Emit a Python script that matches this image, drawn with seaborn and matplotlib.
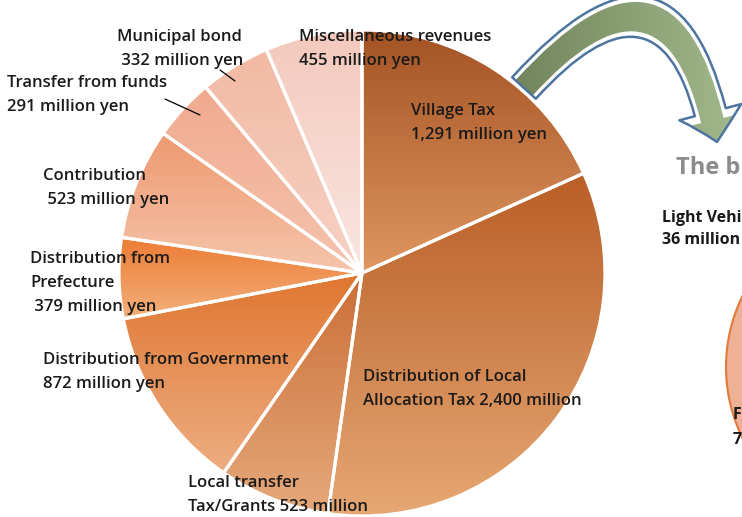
import numpy as np
import matplotlib
matplotlib.use('Agg')
import matplotlib.pyplot as plt
import seaborn as sns
from matplotlib.colors import to_rgb
from matplotlib.patches import FancyArrowPatch, Circle

# Revenue breakdown (million yen), clockwise from 12 o'clock
categories = ['Village Tax', 'Distribution of Local Allocation Tax', 'Local transfer Tax/Grants',
              'Distribution from Government', 'Distribution from Prefecture', 'Contribution',
              'Transfer from funds', 'Municipal bond', 'Miscellaneous revenues']
values = [1291, 2400, 523, 872, 379, 523, 291, 332, 455]

# top / bottom colour of each wedge gradient
top_colors = ['#A45324', '#B95E26', '#CB6E36', '#E07631', '#EC7C34',
              '#EE9970', '#F0AA8D', '#F2B9A3', '#F3C9BC']
bottom_colors = ['#E0965F', '#E6A773', '#E5A97B', '#EDAE82', '#F3B07C',
                 '#F5C5AB', '#F5C3AF', '#F6D2C5', '#FAE6E0']

labels = [
    (['Village Tax', '1,291 million yen'], 411, 111),
    (['Distribution of Local', 'Allocation Tax 2,400 million'], 363, 377),
    (['Local transfer', 'Tax/Grants 523 million'], 188, 483),
    (['Distribution from Government', '872 million yen'], 43, 360),
    (['Distribution from', 'Prefecture', ' 379 million yen'], 30, 259),
    (['Contribution', ' 523 million yen'], 43, 176),
    (['Transfer from funds', '291 million yen'], 7, 83),
    (['Municipal bond', ' 332 million yen'], 117, 37),
    (['Miscellaneous revenues', '455 million yen'], 299, 37),
]

W, H = 742, 517

sns.set_theme(style='white')
plt.rcParams['font.family'] = ['Open Sans', 'DejaVu Sans']

fig = plt.figure(figsize=(7.42, 5.17), dpi=100)
ax = fig.add_axes([0, 0, 1, 1])


def py(y):
    # pixel row -> data y
    return H - y


def gradient(c1, c2, n=128):
    a, b = np.array(to_rgb(c1)), np.array(to_rgb(c2))
    t = np.linspace(0, 1, n)[:, None]
    return (a + (b - a) * t)[:, None, :]


wedges, _ = ax.pie(values, startangle=90, counterclock=False,
                   center=(362, py(273)), radius=243,
                   wedgeprops=dict(edgecolor='white', linewidth=2.3))

for w, c1, c2 in zip(wedges, top_colors, bottom_colors):
    ext = w.get_path().get_extents()
    im = ax.imshow(gradient(c1, c2), extent=[ext.x0, ext.x1, ext.y0, ext.y1],
                   origin='upper', aspect='auto', interpolation='bilinear', zorder=1)
    im.set_clip_path(w)
    w.set_facecolor('none')
    w.set_zorder(3)

for lines, x, y in labels:
    for i, t in enumerate(lines):
        ax.text(x, py(y + 24 * i), t, fontsize=12, fontweight='semibold',
                color='#1a1a1a', ha='left', va='center', zorder=5)

# leader lines
ax.plot([220, 235], [py(70), py(81)], color='black', lw=0.9, zorder=4)
ax.plot([165, 200], [py(99), py(115)], color='black', lw=0.9, zorder=4)

# curved arrow to the right-hand chart
arrow = FancyArrowPatch((524, py(88)), (717, py(142)),
                        connectionstyle='arc3,rad=-1.0',
                        arrowstyle='simple,head_length=1.1,head_width=2.3,tail_width=1.15',
                        mutation_scale=20, shrinkA=0, shrinkB=0,
                        facecolor='none', edgecolor='#4E74A0', lw=1.8, zorder=6)
ax.add_patch(arrow)
xs = np.linspace(0, 1, 128)
c_left, c_right = np.array(to_rgb('#71825A')), np.array(to_rgb('#A2BA8D'))
arr_grad = c_left + (c_right - c_left) * xs[:, None]
arr_im = ax.imshow(arr_grad[None, :, :], extent=[505, 742, py(150), py(0)],
                   aspect='auto', interpolation='bilinear', zorder=5)
arr_im.set_clip_path(arrow)

# partial right-hand chart (cut off at the picture edge)
ax.add_patch(Circle((887, py(367)), 161, facecolor='#EEB196', edgecolor='#E07B39', lw=1.5, zorder=2))
ax.text(676, py(168), 'The b', fontsize=17, fontweight='bold', color='#8C8C8C',
        ha='left', va='center')
ax.text(662, py(218), 'Light Vehi', fontsize=11.5, fontweight='bold', color='#1a1a1a',
        ha='left', va='center')
ax.text(662, py(240), '36 million', fontsize=11.5, fontweight='bold', color='#1a1a1a',
        ha='left', va='center')
ax.text(733, py(415), 'F', fontsize=11.5, fontweight='bold', color='#1a1a1a',
        ha='left', va='center', zorder=5)
ax.text(733, py(440), '7', fontsize=11.5, fontweight='bold', color='#1a1a1a',
        ha='left', va='center', zorder=5)

ax.set_xlim(0, W)
ax.set_ylim(0, H)
ax.set_aspect('auto')
ax.axis('off')

plt.savefig('out.png', dpi=100)
plt.close()
